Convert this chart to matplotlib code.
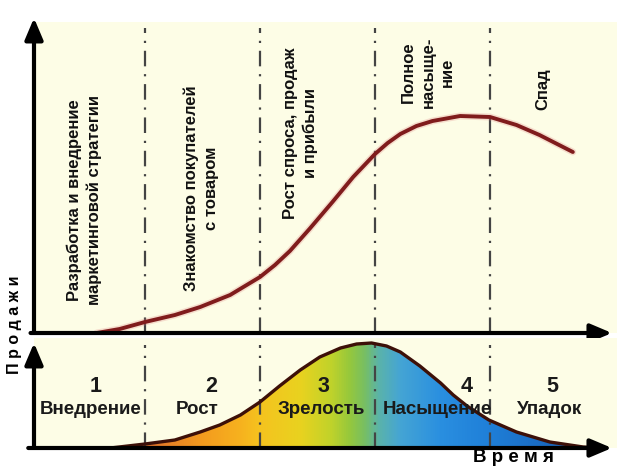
#!/usr/bin/env python3
import numpy as np
import matplotlib
matplotlib.use("Agg")
import matplotlib.pyplot as plt
from matplotlib.colors import LinearSegmentedColormap
from matplotlib.patches import Polygon

plt.rcParams["font.family"] = ["Liberation Sans", "DejaVu Sans"]

# Phase boundaries on the time axis (one unit per phase)
PHASE_BOUNDS = [1, 2, 3, 4]

# Top panel: sales curve
SALES_T = [0.58, 0.78, 1.0, 1.26, 1.48, 1.74, 2.0, 2.13, 2.26, 2.43, 2.63, 2.81,
           3.0, 3.11, 3.22, 3.36, 3.5, 3.74, 4.0, 4.23, 4.43, 4.72]
SALES_V = [0, 4, 11, 18, 26, 38, 56, 68, 82, 104, 131, 156,
           179, 190, 199, 207, 212, 217, 216, 208, 198, 181]

# Bottom panel: bell-shaped life cycle curve
BELL_T = [0.70, 1.0, 1.26, 1.48, 1.65, 1.83, 2.0, 2.17, 2.35, 2.52, 2.70, 2.84,
          2.97, 3.10, 3.22, 3.39, 3.57, 3.68, 3.80, 3.99, 4.23, 4.52, 4.81, 4.98]
BELL_V = [0, 4, 8, 16, 23, 33, 46, 62, 78, 91, 100, 104,
          105, 102, 96, 82, 65, 53, 42, 28, 16, 6, 1, 0]

TOP_LABELS = [
    "Разработка и внедрение\nмаркетинговой стратегии",
    "Знакомство покупателей\nс товаром",
    "Рост спроса, продаж\nи прибыли",
    "Полное\nнасыще-\nние",
    "Спад",
]
TOP_LABEL_POS = [(0.47, 133), (1.49, 145), (2.35, 200), (3.46, 261), (4.46, 244)]

STAGE_NUMS = ["1", "2", "3", "4", "5"]
STAGE_NUM_T = [0.57, 1.58, 2.55, 3.80, 4.54]
STAGE_NAMES = ["Внедрение", "Рост", "Зрелость", "Насыщение", "Упадок"]
STAGE_NAME_T = [0.53, 1.45, 2.53, 3.54, 4.52]

BG = "#fdfde6"
# colour stops of the fill, keyed by time
GRAD_STOPS = [
    (0.70, "#a8401c"),
    (1.04, "#e0742a"),
    (1.48, "#f39a1f"),
    (1.83, "#f7b21e"),
    (2.00, "#f5c31f"),
    (2.35, "#e9d21f"),
    (2.61, "#c2d32a"),
    (2.78, "#96c83c"),
    (2.91, "#78bf62"),
    (3.04, "#5ab3ab"),
    (3.22, "#45a5d4"),
    (3.57, "#2a8fe0"),
    (4.00, "#1f7fd8"),
    (4.43, "#1a6cc4"),
    (4.98, "#1a55a0"),
]

X0, X1 = 0.035, 5.104


def arrow(ax, start, end):
    ax.annotate("", xy=end, xytext=start, annotation_clip=False,
                arrowprops=dict(arrowstyle="-|>,head_length=1.3,head_width=0.55",
                                lw=3, color="black", mutation_scale=10,
                                shrinkA=0, shrinkB=0))


def dashed(ax, x, top):
    ax.plot([x, x], [0, top], color="#444444", lw=1.6,
            dashes=(7, 3.5, 1, 3.5), zorder=1)


def main():
    fig = plt.figure(figsize=(6.17, 4.71), dpi=100)
    fig.patch.set_facecolor("white")

    # ---- top panel
    ax = fig.add_axes([34 / 617, 138 / 471, 583 / 617, 311 / 471])
    ax.set_xlim(X0, X1)
    ax.set_ylim(0, 311)
    ax.axis("off")
    ax.add_patch(plt.Rectangle((X0, 0), X1 - X0, 311, color=BG, zorder=0))
    for b in PHASE_BOUNDS:
        dashed(ax, b, 305)
    ax.plot(SALES_T, SALES_V, color="#e08080", lw=5, alpha=0.25,
            solid_capstyle="round", solid_joinstyle="round", zorder=2)
    ax.plot(SALES_T, SALES_V, color="#801c1c", lw=2.8,
            solid_capstyle="round", solid_joinstyle="round", zorder=3)
    for txt, (tx, ty) in zip(TOP_LABELS, TOP_LABEL_POS):
        ax.text(tx, ty, txt, rotation=90, ha="center", va="center",
                multialignment="center", fontsize=12, fontweight="bold",
                linespacing=1.4, color="#111111", zorder=4)
    arrow(ax, (X0, 0), (X0, 315))
    arrow(ax, (X0 - 0.03, 0), (5.06, 0))

    # ---- bottom panel
    bx = fig.add_axes([34 / 617, 23 / 471, 583 / 617, 110 / 471])
    bx.axis("off")
    bx.add_patch(plt.Rectangle((X0, 0), X1 - X0, 110, color=BG, zorder=0))

    stops = [((t - X0) / (X1 - X0), c) for t, c in GRAD_STOPS]
    stops = [(0.0, stops[0][1])] + stops + [(1.0, stops[-1][1])]
    cmap = LinearSegmentedColormap.from_list("cycle", stops)
    grad = np.linspace(0, 1, 1024).reshape(1, -1)
    img = bx.imshow(grad, cmap=cmap, aspect="auto",
                    extent=(X0, X1, 0, 110), zorder=1)
    poly = Polygon(list(zip(BELL_T, BELL_V)), closed=True,
                   facecolor="none", edgecolor="none")
    bx.add_patch(poly)
    img.set_clip_path(poly)
    bx.set_xlim(X0, X1)
    bx.set_ylim(0, 110)
    bx.plot(BELL_T, BELL_V, color="#3d1008", lw=2.4,
            solid_joinstyle="round", zorder=3)

    for b in PHASE_BOUNDS:
        dashed(bx, b, 103)
    for n, t in zip(STAGE_NUMS, STAGE_NUM_T):
        bx.text(t, 62, n, ha="center", va="center", fontsize=15.5,
                fontweight="bold", color="#1a1a1a", zorder=4)
    for n, t in zip(STAGE_NAMES, STAGE_NAME_T):
        bx.text(t, 38, n, ha="center", va="center", fontsize=13.5,
                fontweight="bold", color="#1a1a1a", zorder=4)
    arrow(bx, (X0, 0), (X0, 105))
    arrow(bx, (X0 - 0.05, 0), (5.06, 0))

    fig.text(15 / 617, 1 - 325 / 471, "П р о д а ж и", rotation=90,
             ha="center", va="center", fontsize=11.5, fontweight="bold")
    fig.text(513 / 617, 1 - 458 / 471, "В р е м я", ha="center", va="center",
             fontsize=13.5, fontweight="bold")

    fig.savefig("out.png", dpi=100)


if __name__ == "__main__":
    main()
